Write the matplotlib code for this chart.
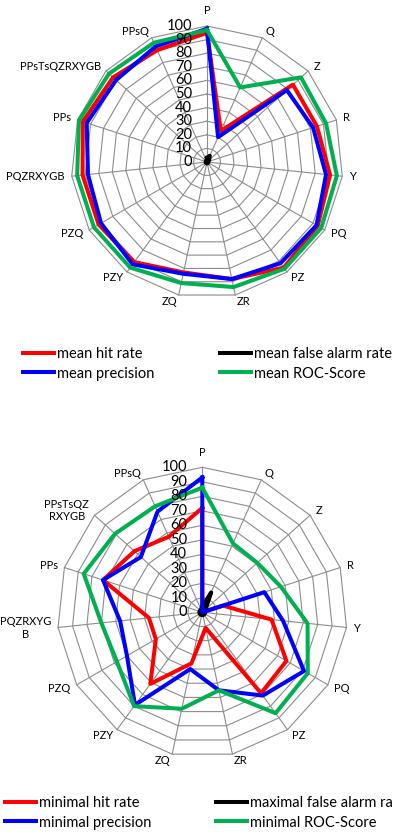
import numpy as np
import matplotlib
matplotlib.use('Agg')
import matplotlib.pyplot as plt
from matplotlib.lines import Line2D

plt.rcParams['font.family'] = ['Lato', 'DejaVu Sans']

# ---------------- data ----------------
categories = ['P', 'Q', 'Z', 'R', 'Y', 'PQ', 'PZ', 'ZR', 'ZQ', 'PZY', 'PZQ',
              'PQZRXYGB', 'PPs', 'PPsTsQZRXYGB', 'PPsQ']
categories_wrapped = ['P', 'Q', 'Z', 'R', 'Y', 'PQ', 'PZ', 'ZR', 'ZQ', 'PZY', 'PZQ',
                      'PQZRXYG\nB', 'PPs', 'PPsTsQZ\nRXYGB', 'PPsQ']
radial_ticks = [0, 10, 20, 30, 40, 50, 60, 70, 80, 90, 100]

mean_hit_rate = [95, 25, 85, 85, 91, 94, 96, 88, 83, 91, 92, 92, 96, 93, 90]
mean_false_alarm = [3, 5, 2, 1, 1, 1, 1, 1, 1, 1, 1, 1, 1, 1, 1]
mean_precision = [98, 20, 79, 82, 88, 93, 92, 88, 84, 93, 90, 88, 93, 90, 93]
mean_roc = [97, 60, 93, 92, 96, 97, 97, 94, 91, 96, 96, 96, 99, 97, 96]

min_hit_rate = [72, 0, 0, 15, 48, 67, 69, 11, 36, 61, 37, 37, 72, 63, 57]
max_false_alarm = [4, 15, 3, 2, 2, 2, 2, 2, 2, 2, 2, 2, 2, 2, 2]
min_precision = [93, 0, 0, 45, 56, 81, 71, 55, 40, 79, 60, 57, 72, 57, 76]
min_roc = [86, 52, 51, 57, 73, 84, 86, 55, 68, 80, 68, 70, 86, 81, 80]

labels_top = ['mean hit rate', 'mean false alarm rate', 'mean precision', 'mean ROC-Score']
labels_bottom = ['minimal hit rate', 'maximal false alarm rate', 'minimal precision',
                 'minimal ROC-Score']

RED, BLACK, BLUE, GREEN = '#FF0000', '#000000', '#0000FF', '#00B050'
GRID = '#8C8C8C'

W, H = 393, 834
fig = plt.figure(figsize=(W / 100, H / 100), dpi=100)


def radar(cx, cy, R, cats, series):
    ax = fig.add_axes([(cx - R) / W, 1 - (cy + R) / H, 2 * R / W, 2 * R / H],
                      projection='polar')
    ax.set_theta_zero_location('N')
    ax.set_theta_direction(-1)
    ax.set_ylim(0, 100)
    ax.grid(False)
    ax.set_xticks([])
    ax.set_yticks([])
    ax.spines['polar'].set_visible(False)
    ax.patch.set_alpha(0)
    n = len(cats)
    theta = np.arange(n) * 2 * np.pi / n
    closed = np.append(theta, theta[0])
    for r in radial_ticks[1:]:
        ax.plot(closed, [r] * (n + 1), color=GRID, lw=0.8, zorder=1, clip_on=False)
    for t in theta:
        ax.plot([t, t], [0, 100], color=GRID, lw=0.8, zorder=1, clip_on=False)
    for vals, color in series:
        ax.plot(closed, list(vals) + [vals[0]], color=color, lw=2.9, zorder=3,
                clip_on=False, solid_joinstyle='round')
    for r in radial_ticks:
        ax.annotate(str(r), xy=(0, r), xytext=(-15, 0), textcoords='offset pixels',
                    ha='right', va='center', fontsize=10.5, zorder=5,
                    annotation_clip=False)
    for t, lab in zip(theta, cats):
        s, c = np.sin(t), np.cos(t)
        d = 15 if abs(s) < 0.1 else 7
        ha = 'center' if abs(s) < 0.1 else ('left' if s > 0 else 'right')
        ax.annotate(lab, xy=(t, 100), xytext=(d * s, d * c), textcoords='offset pixels',
                    ha=ha, va='center', multialignment='center', fontsize=8,
                    annotation_clip=False)
    return ax


radar(207, 162, 136, categories,
      [(mean_hit_rate, RED), (mean_false_alarm, BLACK), (mean_precision, BLUE), (mean_roc, GREEN)])
radar(202.3, 612.3, 145, categories_wrapped,
      [(min_hit_rate, RED), (max_false_alarm, BLACK), (min_precision, BLUE), (min_roc, GREEN)])


def legend(x, ymid, items):
    handles = [Line2D([], [], color=c, lw=2.9) for _, c in items]
    lg = fig.legend(handles, [l for l, _ in items], loc='center left',
                    bbox_to_anchor=(x / W, 1 - ymid / H), frameon=False, borderpad=0,
                    borderaxespad=0, handlelength=2.1, handletextpad=0.25,
                    labelspacing=0.35, fontsize=10.5)
    return lg


legend(23, 364, [(labels_top[0], RED), (labels_top[2], BLUE)])
legend(220, 364, [(labels_top[1], BLACK), (labels_top[3], GREEN)])
legend(5, 813, [(labels_bottom[0], RED), (labels_bottom[2], BLUE)])
legend(216, 813, [(labels_bottom[1], BLACK), (labels_bottom[3], GREEN)])

fig.savefig('out.png', dpi=100)
